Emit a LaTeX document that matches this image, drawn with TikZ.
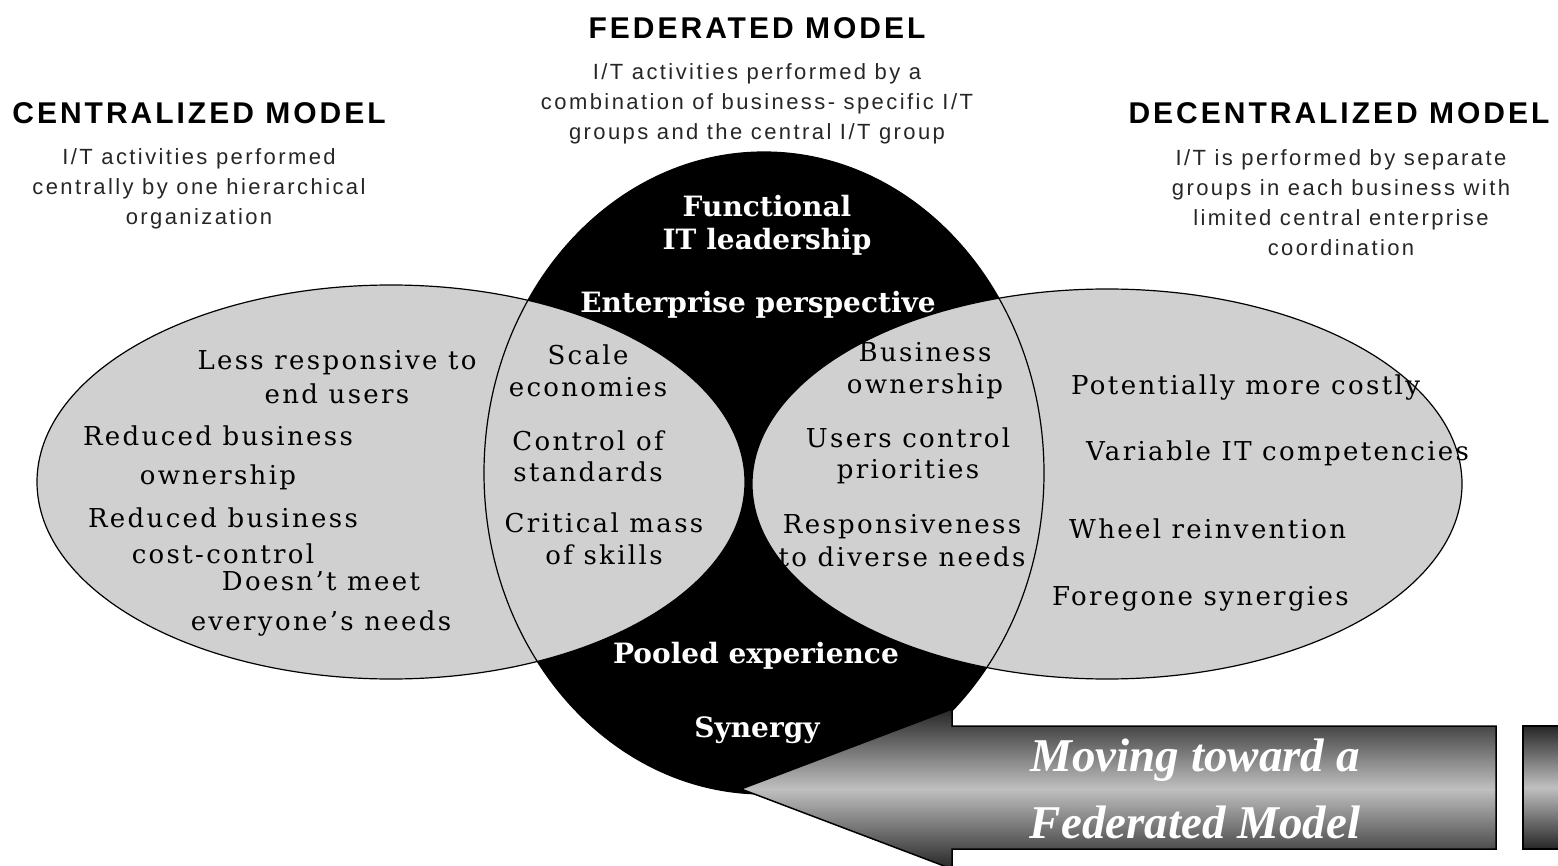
\documentclass[tikz,border=0pt]{standalone}
\usepackage{fontspec}
\usetikzlibrary{shapes.geometric}
\newfontfamily\headfont[LetterSpace=10]{Liberation Sans}
\newfontfamily\descfont[LetterSpace=11]{Liberation Sans}
\newfontfamily\ellfont[LetterSpace=9]{DejaVu Serif}
\newfontfamily\boldserif{DejaVu Serif}
\newfontfamily\arrowfont{Liberation Serif}
\definecolor{ellgray}{RGB}{208,208,208}
\begin{document}
\begin{tikzpicture}[x=1pt,y=-1pt,
  heading/.style={font=\headfont\bfseries\fontsize{30}{32}\selectfont, inner sep=0},
  desc/.style={font=\descfont\fontsize{22}{30}\selectfont, text=black!85, align=center, inner sep=0},
  etext/.style={font=\ellfont\fontsize{26}{34}\selectfont, align=center, inner sep=0},
  wtext/.style={font=\boldserif\bfseries\fontsize{28}{33}\selectfont, text=white, align=center, inner sep=0},
  oval/.style={ellipse, inner sep=0, line width=1.2pt},
  arrowshade/.style={draw=black, line width=1.5pt, top color=black!85, bottom color=black!85, middle color=black!25},
]
\useasboundingbox (0,0) rectangle (1558,866);
\clip (0,0) rectangle (1558,866);

% ellipses
\node[oval, fill=black, minimum width=560pt, minimum height=642pt] (fed) at (764,473) {};
\node[oval, draw, fill=ellgray, minimum width=708pt, minimum height=394pt] (cen) at (391,482) {};
\node[oval, draw, fill=ellgray, minimum width=710pt, minimum height=390pt] (dec) at (1107,484) {};
\draw[line width=1.2pt] (fed.center) ellipse [x radius=280, y radius=321];

% arrow
\coordinate (tip) at (741,789);
\path[arrowshade] (tip) -- (952,709) -- (952,726) -- (1496,726) -- (1496,849) -- (952,849) -- (952,869) -- cycle;
\path[arrowshade] (1523,726) rectangle (1600,849);
\node[font=\arrowfont\bfseries\itshape\fontsize{47}{67}\selectfont, text=white, align=center, inner sep=0] (mv) at (1195,789) {Moving toward a\\Federated Model};

% headings
\node[heading] (hc) at (199,113) {CENTRALIZED MODEL};
\node[heading] (hf) at (757,28) {FEDERATED MODEL};
\node[heading] (hd) at (1339,113) {DECENTRALIZED MODEL};

\node[desc] (dc) at (199,189) {I/T activities performed\\centrally by one hierarchical\\organization};
\node[desc] (df) at (757,104) {I/T activities performed by a\\combination of business- specific I/T\\groups and the central I/T group};
\node[desc] (dd) at (1341,203) {I/T is performed by separate\\groups in each business with\\limited central enterprise\\coordination};

% left ellipse text
\node[etext] (l1) at (337,377) {Less responsive to\\end users};
\node[etext, font=\ellfont\fontsize{26}{39}\selectfont] (l2) at (218,458) {Reduced business\\ownership};
\node[etext, font=\ellfont\fontsize{26}{36}\selectfont] (l3) at (223,536) {Reduced business\\cost-control};
\node[etext, font=\ellfont\fontsize{26}{40}\selectfont] (l4) at (321,604) {Doesn’t meet\\everyone’s needs};

% overlap left
\node[etext, font=\ellfont\fontsize{26}{32}\selectfont] (m1) at (588,371) {Scale\\economies};
\node[etext, font=\ellfont\fontsize{26}{31}\selectfont] (m2) at (588,456) {Control of\\standards};
\node[etext, font=\ellfont\fontsize{26}{32}\selectfont] (m3) at (604,539) {Critical mass\\of skills};

% overlap right
\node[etext, font=\ellfont\fontsize{26}{32}\selectfont] (r1) at (925,371) {Business\\ownership};
\node[etext, font=\ellfont\fontsize{26}{31}\selectfont] (r2) at (908,456) {Users control\\priorities};
\node[etext, font=\ellfont\fontsize{26}{33}\selectfont] (r3) at (902,541) {Responsiveness\\to diverse needs};

% right ellipse text
\node[etext, anchor=base west] (d1) at (1071,395) {Potentially more costly};
\node[etext, anchor=base west] (d2) at (1086,460) {Variable IT competencies};
\node[etext, anchor=base west] (d3) at (1069,538) {Wheel reinvention};
\node[etext, anchor=base west] (d4) at (1052,605) {Foregone synergies};

% federated labels
\node[wtext] (f1) at (767,225) {Functional\\IT leadership};
\node[wtext] (f2) at (758,305) {Enterprise perspective};
\node[wtext] (f3) at (756,656) {Pooled experience};
\node[wtext] (f4) at (757,730) {Synergy};
\end{tikzpicture}
\end{document}
